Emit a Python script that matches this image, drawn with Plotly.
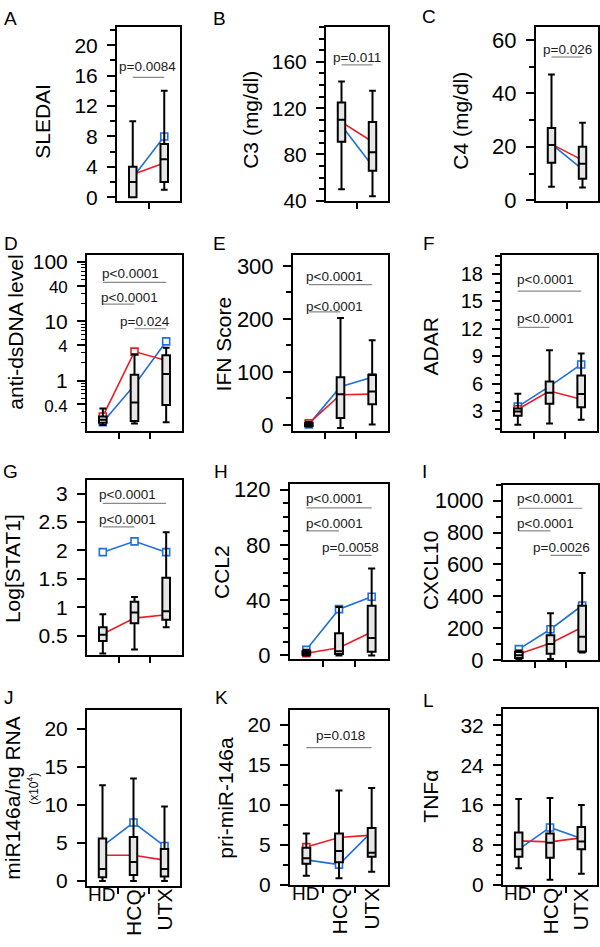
import plotly.graph_objects as go

W, H = 600, 947
FONT = "Liberation Sans, Arial, sans-serif"
RED = "#ec1c24"
BLUE = "#1f6fdc"
BOXFILL = "#e6e6e6"

CATS = ["HD", "HCQ", "UTX"]

# ---------------- data (box stats: low whisker, q1, median, q3, high whisker) ----------------
A_cats = ["HCQ", "UTX"]
A_box = [[0, 0, 2, 4, 10], [1, 2, 5, 7, 14]]
A_red = [3.0, 4.5]
A_blue = [2.6, 8.0]
A_p = [("p=0.0084", "HCQ", "UTX")]

B_cats = ["HCQ", "UTX"]
B_box = [[50, 91, 110, 125, 143], [44, 66, 82, 108, 135]]
B_red = [108, 91]
B_blue = [105, 70]
B_p = [("p=0.011", "HCQ", "UTX")]

C_cats = ["HCQ", "UTX"]
C_box = [[5, 14, 20.7, 27, 47], [4.8, 8, 13.6, 20, 29]]
C_red = [21, 15]
C_blue = [21, 11.5]
C_p = [("p=0.026", "HCQ", "UTX")]

D_box = [[0.18, 0.195, 0.22, 0.25, 0.34], [0.19, 0.21, 0.43, 1.26, 2.8], [0.2, 0.39, 1.3, 2.7, 3.6]]
D_red = [0.25, 3.1, 2.2]
D_blue = [0.2, 0.85, 4.6]
D_p = [("p<0.0001", "HD", "UTX"), ("p<0.0001", "HD", "HCQ"), ("p=0.024", "HCQ", "UTX")]

E_box = [[-3, -2, 0, 3, 6], [-6, 13, 58, 90, 202], [0.5, 39, 63, 94, 160]]
E_red = [3, 57, 58]
E_blue = [1, 72, 90]
E_p = [("p<0.0001", "HD", "UTX"), ("p<0.0001", "HD", "HCQ")]

F_box = [[1.5, 2.5, 2.97, 3.3, 4.9], [1.64, 3.8, 5.0, 6.25, 9.65], [2.07, 3.43, 4.86, 6.9, 9.3]]
F_red = [3.2, 5.2, 4.3]
F_blue = [3.5, 5.7, 8.1]
F_p = [("p<0.0001", "HD", "UTX"), ("p<0.0001", "HD", "HCQ")]

G_box = [[0.19, 0.41, 0.52, 0.65, 0.88], [0.26, 0.72, 0.91, 1.1, 1.18], [0.65, 0.78, 0.93, 1.52, 2.32]]
G_red = [0.53, 0.81, 0.87]
G_blue = [1.97, 2.16, 1.97]
G_p = [("p<0.0001", "HD", "UTX"), ("p<0.0001", "HD", "HCQ")]

H_box = [[0, 0.5, 1.5, 3, 4], [0, 1, 3, 16, 35], [0, 2.6, 12.6, 36, 63]]
H_red = [1.5, 5.5, 17]
H_blue = [4, 33.5, 42.5]
H_p = [("p<0.0001", "HD", "UTX"), ("p<0.0001", "HD", "HCQ"), ("p=0.0058", "HCQ", "UTX")]

I_box = [[5, 12, 30, 50, 60], [6, 39, 100, 156, 293], [47, 53, 146, 340, 546]]
I_red = [38, 105, 205]
I_blue = [68, 193, 342]
I_p = [("p<0.0001", "HD", "UTX"), ("p<0.0001", "HD", "HCQ"), ("p=0.0026", "HCQ", "UTX")]

J_box = [[0, 0.5, 1.6, 5.6, 12.6], [0, 0.8, 2.5, 5.8, 13.5], [0, 0.6, 1.6, 4.2, 9.8]]
J_red = [3.4, 3.4, 2.75]
J_blue = [4.6, 7.7, 4.6]
J_p = []

K_box = [[1.1, 2.6, 3.3, 4.6, 6.4], [0.8, 2.8, 4.2, 6.4, 11.8], [1.6, 3.5, 4.0, 7.1, 12.1]]
K_red = [4.7, 5.9, 6.2]
K_blue = [3.1, 2.5, 6.6]
K_p = [("p=0.018", "HD", "UTX")]

L_box = [[3.3, 5.6, 7.1, 10.5, 17.2], [1.0, 5.4, 8.4, 10.3, 17.4], [2.2, 7.1, 8.7, 11.6, 16.0]]
L_red = [8.8, 8.6, 9.4]
L_blue = [7.1, 11.5, 9.3]
L_p = []

YLABELS = {"A": "SLEDAI", "B": "C3 (mg/dl)", "C": "C4 (mg/dl)", "D": "anti-dsDNA level",
           "E": "IFN Score", "F": "ADAR", "G": "Log[STAT1]", "H": "CCL2", "I": "CXCL10",
           "J": "miR146a/ng RNA", "K": "pri-miR-146a", "L": "TNFα"}

D_ticks = [0.4, 1, 4, 10, 40, 100]
G_ticks = [0.5, 1, 1.5, 2, 2.5, 3]

PANELS = [
    ("A", A_cats, A_box, A_red, A_blue, A_p),
    ("B", B_cats, B_box, B_red, B_blue, B_p),
    ("C", C_cats, C_box, C_red, C_blue, C_p),
    ("D", CATS, D_box, D_red, D_blue, D_p),
    ("E", CATS, E_box, E_red, E_blue, E_p),
    ("F", CATS, F_box, F_red, F_blue, F_p),
    ("G", CATS, G_box, G_red, G_blue, G_p),
    ("H", CATS, H_box, H_red, H_blue, H_p),
    ("I", CATS, I_box, I_red, I_blue, I_p),
    ("J", CATS, J_box, J_red, J_blue, J_p),
    ("K", CATS, K_box, K_red, K_blue, K_p),
    ("L", CATS, L_box, L_red, L_blue, L_p),
]

# ---------------- layout / style (pixels) ----------------
GEOM = {  # left, right, top, bottom of plot frame
    "A": (117, 180, 21, 199), "B": (326, 388, 21, 199), "C": (536, 598, 21, 199),
    "D": (87, 182, 254, 433), "E": (293, 388, 254, 433), "F": (502, 597, 254, 433),
    "G": (87, 182, 483, 662), "H": (290, 388, 487, 666), "I": (503, 598, 488, 667),
    "J": (87, 180, 718, 897), "K": (290, 388, 718, 896), "L": (503, 597, 717, 896),
}
YAX = {  # range, major tick0/dtick, minor dtick, tickfont size
    "A": dict(range=[-0.52, 22.45], tick0=0, dtick=4, minor=2, fs=21),
    "B": dict(range=[39.6, 190.5], tick0=40, dtick=40, minor=10, fs=21),
    "C": dict(range=[-0.37, 64.95], tick0=0, dtick=20, minor=10, fs=22),
    "D": dict(range=[-0.843, 2.116], log=True, fs=21),
    "E": dict(range=[-11.1, 320.4], tick0=0, dtick=100, minor=50, fs=22),
    "F": dict(range=[0.856, 20.04], tick0=3, dtick=3, minor=1, fs=20),
    "G": dict(range=[0.155, 3.241], vals=True, fs=21),
    "H": dict(range=[-2.86, 124.3], tick0=0, dtick=40, minor=10, fs=22),
    "I": dict(range=[-2, 1100], tick0=0, dtick=200, minor=100, fs=22),
    "J": dict(range=[-0.645, 22.45], tick0=0, dtick=5, minor=None, fs=21),
    "K": dict(range=[-0.05, 21.84], tick0=0, dtick=5, minor=2.5, fs=21),
    "L": dict(range=[-0.05, 35.2], tick0=0, dtick=8, minor=2, fs=21),
}
YLAB_POS = {"A": (43, 118), "B": (251, 116), "C": (461, 117), "D": (16, 333),
            "E": (223, 345), "F": (430, 347), "G": (12, 574), "H": (221, 577),
            "I": (430, 576), "J": (13, 808), "K": (226, 807), "L": (431, 806)}
LETTER_POS = {"A": (10, 12.5), "B": (219, 12.5), "C": (429, 11), "D": (11, 242),
              "E": (220, 242), "F": (429, 242), "G": (10, 475), "H": (221, 475),
              "I": (424, 475), "J": (9, 705), "K": (221, 705), "L": (428, 708)}
P_POS = {  # text centre x, text centre y, bracket line y
    "A": [(147.5, 62, 72.7)], "B": [(357, 52.5, 60)], "C": [(567, 44, 52)],
    "D": [(130, 272.5, 281.7), (129.5, 297.5, 304), (145, 322, 329)],
    "E": [(334, 276, 284), (334, 306, 311.7)],
    "F": [(545, 279, 290.7), (545, 319, 327.7)],
    "G": [(127.5, 497.5, 507), (127.5, 523.5, 531)],
    "H": [(334.5, 502.5, 511.7), (334.5, 527.5, 535), (350, 552.5, 560)],
    "I": [(545, 502.5, 512), (545, 527.5, 535), (561, 552.5, 560)],
    "J": [], "K": [(340, 744, 756)], "L": [],
}
XLABEL_PANELS = ["J", "K", "L"]


def px(x):
    return x / W


def py(y):
    return 1 - y / H


fig = go.Figure()
layout = dict(width=W, height=H, margin=dict(l=0, r=0, t=0, b=0, pad=0), autosize=False,
              paper_bgcolor="white", plot_bgcolor="white", showlegend=False,
              font=dict(family=FONT, color="black"))
annotations = []
shapes = []

for i, (key, cats, box, red, blue, pvals) in enumerate(PANELS):
    n = i + 1
    xname = "xaxis" if n == 1 else f"xaxis{n}"
    yname = "yaxis" if n == 1 else f"yaxis{n}"
    xref = "x" if n == 1 else f"x{n}"
    yref = "y" if n == 1 else f"y{n}"
    oname = f"yaxis{n + 12}"
    oref = f"y{n + 12}"
    left, right, top, bottom = GEOM[key]
    xs = [CATS.index(c) for c in cats]
    xr = [min(xs) - 0.5, max(xs) + 0.5]
    bounds = [v + 0.5 for v in xs[:-1]]

    layout[xname] = dict(domain=[px(left), px(right)], range=xr, anchor=yref,
                         showline=True, mirror=True, linecolor="black", linewidth=2,
                         ticks="outside", ticklen=6, tickwidth=1.5, tickcolor="black",
                         tickmode="array", tickvals=bounds, showticklabels=False,
                         showgrid=False, zeroline=False, fixedrange=True)
    ya = YAX[key]
    ydict = dict(domain=[py(bottom), py(top)], range=ya["range"], anchor=xref,
                 showline=True, mirror=True, linecolor="black", linewidth=2,
                 ticks="outside", ticklen=8, tickwidth=1.5, tickcolor="black",
                 showgrid=False, zeroline=False, fixedrange=True,
                 tickfont=dict(size=ya["fs"], family=FONT, color="black"),
                 ticklabelstandoff=5)
    if ya.get("log"):
        ydict["type"] = "log"
        ydict["tickmode"] = "array"
        ydict["tickvals"] = D_ticks
        ydict["ticktext"] = [(str(v) if v in (1, 10, 100) else
                              f"<span style='font-size:17px'>{v}</span>") for v in D_ticks]
        minor_vals = []
        for dec in (0.1, 1, 10):
            for m in range(2, 10):
                v = round(m * dec, 3)
                if v not in D_ticks and 0.14 < v < 131:
                    minor_vals.append(v)
        ydict["minor"] = dict(tickmode="array", tickvals=minor_vals, ticks="outside",
                              ticklen=4, tickwidth=1.2, tickcolor="black", showgrid=False)
    elif ya.get("vals"):
        ydict["tickmode"] = "array"
        ydict["tickvals"] = G_ticks
        ydict["ticktext"] = [f"{v:g}" for v in G_ticks]
    else:
        ydict["tickmode"] = "linear"
        ydict["tick0"] = ya["tick0"]
        ydict["dtick"] = ya["dtick"]
        if ya["minor"]:
            ydict["minor"] = dict(tick0=ya["tick0"], dtick=ya["minor"], ticks="outside",
                                  ticklen=5, tickwidth=1.5, tickcolor="black", showgrid=False)
    layout[yname] = ydict
    layout[oname] = dict(domain=[py(bottom), py(top)], range=ya["range"], anchor=xref,
                         overlaying=yref, visible=False, fixedrange=True,
                         type="log" if ya.get("log") else "linear")

    # patient lines (beneath boxes)
    for vals, col in ((blue, BLUE), (red, RED)):
        fig.add_trace(go.Scatter(
            x=xs, y=vals, xaxis=xref, yaxis=yref, mode="lines+markers",
            line=dict(color=col, width=1.6),
            marker=dict(symbol="square", size=7, color="white", line=dict(color=col, width=1.6)),
            hoverinfo="skip"))
    # boxes (overlay axis, drawn above lines)
    fig.add_trace(go.Box(
        x=xs, lowerfence=[b[0] for b in box], q1=[b[1] for b in box],
        median=[b[2] for b in box], q3=[b[3] for b in box], upperfence=[b[4] for b in box],
        xaxis=xref, yaxis=oref, width=0.24, whiskerwidth=0.9, boxpoints=False,
        fillcolor=BOXFILL, line=dict(color="black", width=2), hoverinfo="skip"))

    # y label
    cx, cy = YLAB_POS[key]
    annotations.append(dict(text=YLABELS[key], x=px(cx), y=py(cy), xref="paper", yref="paper",
                            textangle=-90, showarrow=False, xanchor="center", yanchor="middle",
                            font=dict(size=21, family=FONT, color="black")))
    # panel letter
    lx, ly = LETTER_POS[key]
    annotations.append(dict(text=key, x=px(lx), y=py(ly), xref="paper", yref="paper",
                            showarrow=False, xanchor="center", yanchor="middle",
                            font=dict(size=19, family=FONT, color="black")))
    # p-values
    for (label, g0, g1), (tx, ty, ly_) in zip(pvals, P_POS[key]):
        shapes.append(dict(type="line", xref=xref, yref="paper",
                           x0=CATS.index(g0), x1=CATS.index(g1), y0=py(ly_), y1=py(ly_),
                           line=dict(color="#8a8a8a", width=1.2)))
        annotations.append(dict(text=label, x=px(tx), y=py(ty), xref="paper", yref="paper",
                                showarrow=False, xanchor="center", yanchor="middle",
                                font=dict(size=13.5, family=FONT, color="#1a1a1a")))
    # category labels
    if key in XLABEL_PANELS:
        for c in cats:
            if c == "HD":
                annotations.append(dict(text=c, x=CATS.index(c) - 0.04, y=py(bottom - 4),
                                        xref=xref, yref="paper", showarrow=False,
                                        xanchor="center", yanchor="top",
                                        font=dict(size=19, family=FONT, color="black")))
            else:
                annotations.append(dict(text=c, x=CATS.index(c), y=py(bottom + 1),
                                        xref=xref, yref="paper", showarrow=False,
                                        textangle=-90, xanchor="center", yanchor="top",
                                        font=dict(size=21, family=FONT, color="black")))

# (x10^4) sub-label for panel J
annotations.append(dict(text="(x10<sup>4</sup>)", x=px(33), y=py(798), xref="paper", yref="paper",
                        textangle=-90, showarrow=False, xanchor="center", yanchor="middle",
                        font=dict(size=12, family=FONT, color="black")))

layout["annotations"] = annotations
layout["shapes"] = shapes
fig.update_layout(**layout)

PAGE_FIX = (
    "var g=document.getElementsByClassName('plotly-graph-div')[0];"
    "g.style.position='absolute';g.style.top='0px';g.style.left='0px';"
    "var d=document.documentElement,b=document.body;"
    "d.style.margin='0';b.style.margin='0';b.style.padding='0';"
    "d.style.height='947px';b.style.height='947px';d.style.width='600px';b.style.width='600px';"
    "d.style.overflow='hidden';b.style.overflow='hidden';"
)
fig.write_html("out.html", config={"displayModeBar": False}, post_script=PAGE_FIX)
